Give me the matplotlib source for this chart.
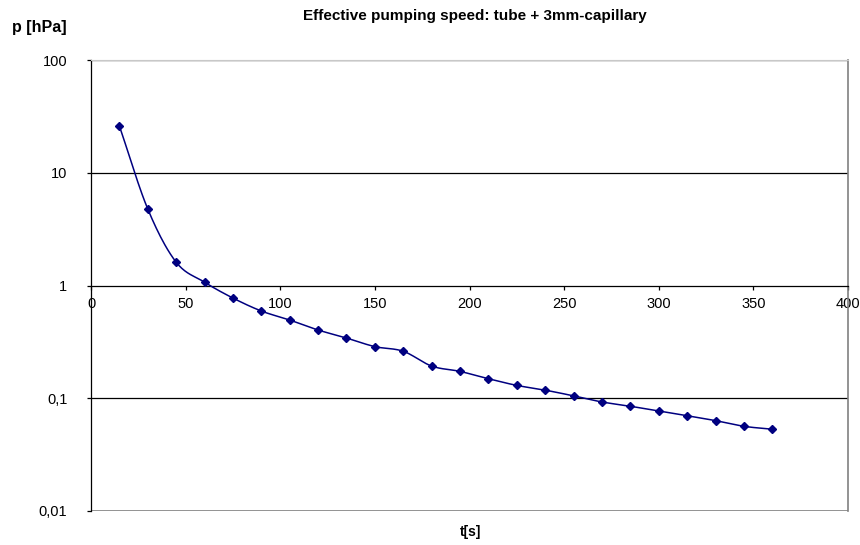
import matplotlib
matplotlib.use('Agg')
import matplotlib.pyplot as plt
import numpy as np
from matplotlib.ticker import FixedLocator, FixedFormatter

T_S = [15, 30, 45, 60, 75, 90, 105, 120, 135, 150, 165, 180, 195, 210,
       225, 240, 255, 270, 285, 300, 315, 330, 345, 360]
P_HPA = [26.0, 4.77, 1.61, 1.07, 0.774, 0.594, 0.494, 0.403, 0.342, 0.287,
         0.261, 0.193, 0.173, 0.149, 0.130, 0.118, 0.105, 0.0927, 0.0849,
         0.0771, 0.0700, 0.0633, 0.0564, 0.0531]
Y_TICKS = [0.01, 0.1, 1, 10, 100]
Y_LABELS = ['0,01', '0,1', '1', '10', '100']
X_TICKS = [0, 50, 100, 150, 200, 250, 300, 350, 400]

NAVY = '#000080'
plt.rcParams['font.family'] = ['Liberation Sans', 'DejaVu Sans']


def smooth(x, y, n=20):
    # Catmull-Rom style smoothing (like a spreadsheet "smoothed line")
    x = np.asarray(x, float)
    y = np.log10(np.asarray(y, float))
    px = np.concatenate([[2 * x[0] - x[1]], x, [2 * x[-1] - x[-2]]])
    py = np.concatenate([[2 * y[0] - y[1]], y, [2 * y[-1] - y[-2]]])
    xs, ys = [], []
    for i in range(1, len(px) - 2):
        t = np.linspace(0, 1, n, endpoint=False)
        for arr, out in ((px, xs), (py, ys)):
            p0, p1, p2, p3 = arr[i - 1], arr[i], arr[i + 1], arr[i + 2]
            c1 = p1 + (p2 - p0) / 6
            c2 = p2 - (p3 - p1) / 6
            out.extend((1 - t) ** 3 * p1 + 3 * (1 - t) ** 2 * t * c1
                       + 3 * (1 - t) * t ** 2 * c2 + t ** 3 * p2)
    xs.append(x[-1])
    ys.append(y[-1])
    return np.array(xs), 10 ** np.array(ys)


fig = plt.figure(figsize=(8.6, 5.45), dpi=100)
ax = fig.add_axes([91 / 860, 1 - 511 / 545, (848 - 91) / 860, (511 - 60) / 545])

ax.set_yscale('log')
ax.set_ylim(0.01, 100)
ax.set_xlim(0, 400)

for v in (0.1, 10, 100):
    ax.axhline(v, color='black', lw=0.9, zorder=1)
ax.axhline(0.01, color='#808080', lw=1.2, zorder=1)

sx, sy = smooth(T_S, P_HPA)
ax.plot(sx, sy, color=NAVY, lw=1.1, zorder=3)
ax.plot(T_S, P_HPA, ls='none', marker='D', ms=4.5, color=NAVY, zorder=4)

ax.spines['bottom'].set_position(('data', 1))
ax.spines['bottom'].set_linewidth(0.9)
ax.spines['left'].set_linewidth(0.9)
ax.spines['top'].set_color('#c8c8c8')
ax.spines['right'].set_color('#808080')
ax.spines['right'].set_linewidth(1.2)

ax.yaxis.set_major_locator(FixedLocator(Y_TICKS))
ax.yaxis.set_major_formatter(FixedFormatter(Y_LABELS))
ax.yaxis.set_minor_locator(FixedLocator([]))
ax.set_xticks(X_TICKS)
ax.set_xticklabels([str(v) for v in X_TICKS])
ax.tick_params(axis='both', direction='out', length=3, width=0.9,
               labelsize=10.5, colors='black')
ax.tick_params(axis='y', pad=14)
ax.tick_params(axis='x', pad=5)

fig.text(0.552, 0.971, 'Effective pumping speed: tube + 3mm-capillary',
         ha='center', va='center', fontsize=11, fontweight='bold')
fig.text(0.014, 0.949, 'p [hPa]', ha='left', va='center', fontsize=11.5,
         fontweight='bold')
fig.text(0.547, 0.023, 't[s]', ha='center', va='center', fontsize=10,
         fontweight='bold')

plt.savefig('out.png', dpi=100)
plt.close()
